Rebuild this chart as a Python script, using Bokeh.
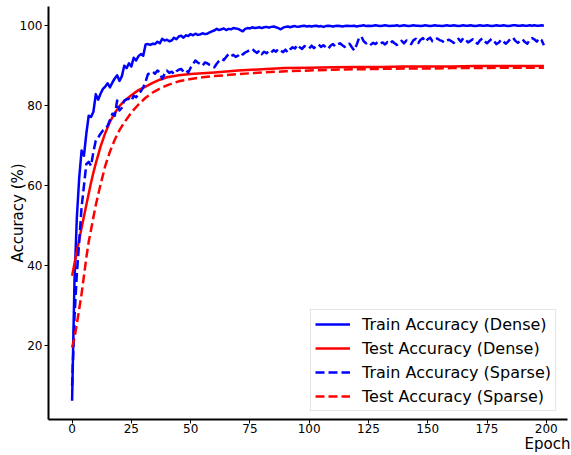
from bokeh.plotting import figure
from bokeh.models import Range1d, FixedTicker, Legend, LegendItem, Title
from bokeh.embed import file_html
from bokeh.resources import INLINE

# Accuracy per epoch (%)
epochs = list(range(200))

train_dense = [
    6.3, 36.0, 52.0, 62.0, 68.8, 67.5, 73.0, 77.5, 77.2, 78.5,
    82.9, 81.5, 83.0, 84.2, 84.8, 85.6, 84.6, 85.8, 86.8, 87.6,
    86.2, 87.4, 90.0, 89.4, 90.6, 89.8, 92.0, 91.3, 92.4, 92.9,
    92.5, 95.3, 95.4, 95.2, 95.5, 95.4, 96.0, 95.6, 96.7, 96.3,
    96.5, 96.1, 96.3, 97.0, 96.6, 97.3, 97.5, 97.0, 97.6, 97.4,
    97.9, 97.6, 98.0, 97.7, 97.8, 98.1, 97.9, 98.0, 98.3, 98.6,
    98.8, 99.2, 98.9, 99.1, 99.3, 98.9, 99.2, 99.1, 99.4, 99.3,
    99.2, 98.9, 98.6, 99.2, 99.4, 99.3, 99.6, 99.4, 99.5, 99.6,
    99.4, 99.6, 99.7, 99.5, 99.7, 99.8, 99.6, 99.4, 99.1, 99.5,
    99.7, 99.8, 99.6, 99.8, 99.9, 99.7, 99.8, 99.9, 100.0, 99.8,
    99.9, 99.8, 99.9, 100.0, 99.8, 99.9, 99.7, 99.9, 100.0, 99.9,
    99.8, 99.9, 100.0, 99.9, 99.8, 99.9, 100.0, 99.9, 99.9, 100.0,
    99.8, 99.9, 100.0, 100.1, 99.9, 100.0, 99.9, 100.0, 100.1, 100.0,
    99.9, 100.0, 100.1, 100.0, 99.9, 100.0, 100.0, 100.1, 99.9, 100.0,
    100.1, 100.0, 99.9, 100.0, 100.1, 100.0, 100.0, 99.9, 100.0, 100.1,
    100.0, 99.9, 100.0, 100.1, 100.0, 100.0, 99.9, 100.0, 100.1, 100.0,
    100.0, 100.1, 100.0, 99.9, 100.0, 100.1, 100.0, 100.0, 100.1, 100.0,
    99.9, 100.0, 100.1, 100.0, 100.0, 100.1, 100.0, 99.9, 100.0, 100.1,
    100.0, 100.0, 100.1, 100.0, 99.9, 100.0, 100.1, 100.1, 100.0, 100.0,
    100.1, 100.0, 100.0, 100.1, 100.0, 100.1, 100.0, 100.0, 100.1, 100.0,
]

train_sparse = [
    10.0, 27.0, 38.0, 46.0, 54.6, 60.0, 65.4, 66.0, 65.0, 68.5,
    71.3, 72.0, 73.0, 73.8, 74.2, 75.0, 76.5, 78.0, 77.5, 81.3,
    78.8, 79.5, 81.3, 81.6, 81.7, 81.2, 82.5, 82.1, 82.9, 83.6,
    84.6, 86.0, 87.9, 88.2, 88.5, 88.0, 88.8, 88.3, 86.7, 87.9,
    88.8, 88.2, 88.5, 87.9, 88.6, 89.0, 89.2, 88.5, 88.9, 88.3,
    89.5, 90.4, 91.3, 90.8, 90.4, 90.0, 90.8, 90.6, 90.2, 89.9,
    89.6, 90.5, 91.2, 91.7, 91.4, 92.2, 92.9, 92.4, 92.7, 92.2,
    92.5, 93.2, 92.8, 93.3, 93.6, 93.9, 94.2, 93.6, 93.2, 93.8,
    92.9, 93.5, 93.1, 93.7, 93.3, 93.9, 93.5, 94.2, 93.8, 93.4,
    94.0, 93.3, 94.1, 94.6, 94.3, 95.2, 94.6, 94.2, 94.9, 94.5,
    94.3, 95.0, 94.4, 94.9, 95.3, 94.7, 95.1, 94.6, 94.2, 95.0,
    95.4, 94.8, 95.3, 95.6, 95.1, 94.7, 95.3, 95.5, 94.6, 93.8,
    95.2, 96.9, 97.3, 96.1, 95.6, 95.9, 95.3, 95.7, 95.4, 96.0,
    95.6, 95.8, 95.3, 95.9, 95.5, 96.1, 95.6, 95.2, 95.8, 96.2,
    95.6, 96.3, 96.0, 95.4, 96.4, 96.7, 95.7, 96.5, 96.9, 96.0,
    96.6, 97.0, 96.1, 96.5, 96.8, 96.4, 96.2, 95.8, 96.3, 96.5,
    96.1, 95.7, 96.4, 96.7, 96.0, 96.9, 96.5, 95.8, 96.2, 96.6,
    95.9, 95.5, 96.3, 96.8, 96.1, 95.6, 96.2, 96.7, 96.1, 95.4,
    95.8, 96.5, 96.0, 95.5, 96.1, 96.8, 97.0, 96.2, 95.7, 96.3,
    96.6, 95.9, 95.5, 96.4, 96.9, 96.6, 96.0, 96.8, 96.4, 95.1,
]

# Test accuracy is smooth, so it is recorded at fewer epochs
test_epochs = [0, 1, 2, 3, 4, 5, 6, 7, 8, 9, 10, 12, 14, 16, 18, 20, 22, 25, 28,
               31, 34, 37, 40, 45, 50, 55, 60, 70, 80, 90, 100, 110, 120, 130,
               140, 150, 160, 170, 180, 190, 199]

test_dense = [37.5, 40.5, 43.5, 46.5, 49.5, 52.3, 55.2, 58.0, 60.8, 63.3, 65.6,
              69.8, 73.2, 76.0, 78.2, 79.9, 81.2, 82.6, 83.9, 84.8, 85.7, 86.5,
              87.1, 87.6, 87.9, 88.1, 88.3, 88.8, 89.1, 89.4, 89.5, 89.6, 89.7,
              89.7, 89.8, 89.8, 89.8, 89.9, 89.9, 89.9, 89.9]

test_sparse = [19.6, 22.0, 25.5, 29.2, 33.0, 37.5, 42.0, 46.0, 49.0, 52.2, 55.2,
               60.3, 65.0, 68.6, 71.5, 73.9, 75.8, 78.3, 80.3, 82.0, 83.3, 84.3,
               85.1, 86.1, 86.7, 87.1, 87.4, 87.9, 88.3, 88.6, 88.8, 89.0, 89.1,
               89.2, 89.3, 89.3, 89.4, 89.4, 89.5, 89.5, 89.5]

series_labels = ["Train Accuracy (Dense)", "Test Accuracy (Dense)",
                 "Train Accuracy (Sparse)", "Test Accuracy (Sparse)"]

x_ticks = [0, 25, 50, 75, 100, 125, 150, 175, 200]
y_ticks = [20, 40, 60, 80, 100]

FONT = "DejaVu Sans"
BLUE = "#0000ff"
RED = "#ff0000"
LW = 2.5
DASH = "9 4"

# axis limits with a 5% margin around the data
all_vals = train_dense + train_sparse + test_dense + test_sparse
lo, hi = min(all_vals), max(all_vals)
ypad = 0.05 * (hi - lo)
xpad = 0.05 * (epochs[-1] - epochs[0])

p = figure(width=571, height=455, output_backend="svg", toolbar_location=None,
           x_range=Range1d(epochs[0] - xpad, epochs[-1] + xpad),
           y_range=Range1d(lo - ypad, hi + ypad),
           min_border_left=48, min_border_right=4,
           min_border_top=6, min_border_bottom=36)
p.outline_line_color = None
p.grid.visible = False
p.background_fill_color = "white"
p.border_fill_color = "white"

r1 = p.line(epochs, train_dense, line_color=BLUE, line_width=LW, line_join="round")
r2 = p.line(test_epochs, test_dense, line_color=RED, line_width=LW, line_join="round")
r3 = p.line(epochs, train_sparse, line_color=BLUE, line_width=LW,
            line_dash=DASH, line_join="round")
r4 = p.line(test_epochs, test_sparse, line_color=RED, line_width=LW,
            line_dash=DASH, line_join="round")

p.xaxis.ticker = FixedTicker(ticks=x_ticks)
p.yaxis.ticker = FixedTicker(ticks=y_ticks)
for ax in (p.xaxis[0], p.yaxis[0]):
    ax.axis_line_color = "black"
    ax.axis_line_width = 2
    ax.major_tick_out = 4
    ax.major_tick_in = 0
    ax.major_tick_line_color = "black"
    ax.major_tick_line_width = 1
    ax.minor_tick_line_color = None
    ax.major_label_text_font = FONT
    ax.major_label_text_font_size = "12px"
    ax.major_label_text_color = "black"
    ax.axis_label_text_font = FONT
    ax.axis_label_text_font_size = "15px"
    ax.axis_label_text_font_style = "normal"
    ax.axis_label_text_color = "black"
p.xaxis.major_label_standoff = 0
p.yaxis.major_label_standoff = 2

p.yaxis.axis_label = "Accuracy (%)"
p.yaxis.axis_label_standoff = -10

# x-axis title sits at the right end, under the tick labels
p.add_layout(Title(text="Epoch", align="right", offset=-3, standoff=-5,
                   text_font=FONT, text_font_size="15px",
                   text_font_style="normal", text_color="black"), "below")

legend = Legend(items=[LegendItem(label=lab, renderers=[r])
                       for lab, r in zip(series_labels, [r1, r2, r3, r4])],
                location=(262, 8), margin=0, padding=4, spacing=4,
                glyph_width=35, glyph_height=20, label_height=20,
                label_standoff=12,
                label_text_font=FONT, label_text_font_size="16px",
                label_text_color="black",
                border_line_color="#cccccc", border_line_width=1,
                background_fill_color="white", background_fill_alpha=0.8)
p.add_layout(legend)

open("out.html", "w").write(file_html(p, INLINE))
